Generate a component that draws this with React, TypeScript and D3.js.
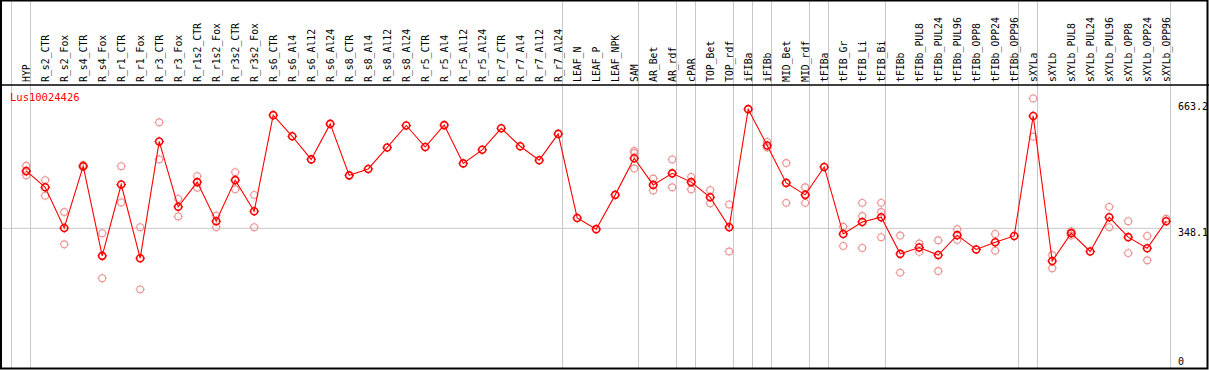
import React from "react";
import * as d3 from "d3";

const categories = [
  "HYP", "R_s2_CTR", "R_s2_Fox", "R_s4_CTR", "R_s4_Fox", "R_r1_CTR", "R_r1_Fox", "R_r3_CTR", "R_r3_Fox",
  "R_r1s2_CTR", "R_r1s2_Fox", "R_r3s2_CTR", "R_r3s2_Fox", "R_s6_CTR", "R_s6_Al4", "R_s6_Al12", "R_s6_Al24",
  "R_s8_CTR", "R_s8_Al4", "R_s8_Al12", "R_s8_Al24", "R_r5_CTR", "R_r5_Al4", "R_r5_Al12", "R_r5_Al24",
  "R_r7_CTR", "R_r7_Al4", "R_r7_Al12", "R_r7_Al24", "LEAF_N", "LEAF_P", "LEAF_NPK", "SAM", "AR_Bet", "AR_rdf",
  "cPAR", "TOP_Bet", "TOP_rdf", "iFIBa", "iFIBb", "MID_Bet", "MID_rdf", "tFIBa", "tFIB_Gr", "tFIB_Li", "tFIB_Bi",
  "tFIBb", "tFIBb_PUL8", "tFIBb_PUL24", "tFIBb_PUL96", "tFIBb_OPP8", "tFIBb_OPP24", "tFIBb_OPP96",
  "sXYLa", "sXYLb", "sXYLb_PUL8", "sXYLb_PUL24", "sXYLb_PUL96", "sXYLb_OPP8", "sXYLb_OPP24", "sXYLb_OPP96",
];

const meanValues = [
  492, 451, 349, 504, 279, 458, 273, 566, 402,
  464, 366, 469, 391, 632, 579, 521, 610,
  481, 497, 551, 606, 552, 607, 511, 545,
  599, 554, 519, 585, 374, 346, 432, 524, 457, 486,
  464, 426, 351, 647, 556, 462, 432, 502, 334, 364, 376,
  284, 300, 281, 331, 295, 313, 329,
  630, 266, 336, 290, 376, 326, 298, 366,
];

const rep1: (number | null)[] = [
  505, 469, 389, 507, 336, 504, 351, 614, 422,
  479, 380, 489, 432, null, null, null, null,
  null, null, null, null, null, null, null, null,
  null, null, null, null, null, null, null, 542, 473, 521,
  477, 444, 408, null, 565, 512, 451, null, 352, 412, 412,
  330, 310, 318, 346, null, 334, null,
  674, 281, 341, null, 402, 366, 329, 372,
];

const rep2: (number | null)[] = [
  481, 430, 308, 502, 223, 413, 195, 521, 378,
  450, 351, 446, 351, null, null, null, null,
  null, null, null, null, null, null, null, null,
  null, null, null, null, null, null, null, 498, 443, 451,
  446, 411, 290, null, 551, 412, 412, null, 304, 379, 389,
  237, 289, 241, 319, null, 292, null,
  578, 248, 330, null, 351, 286, 268, null,
];

const rep3: (number | null)[] = [
  490, null, null, null, null, null, null, null, null,
  null, null, null, null, null, null, null, null,
  null, null, null, null, null, null, null, null,
  null, null, null, null, null, null, null, 537, null, null,
  null, null, null, null, null, null, null, null, null, 299, 326,
  null, null, null, null, null, null, null,
  null, null, null, null, null, null, null, null,
];

// separators drawn after these category names ("" = before the first)
const separatorsAfter = [
  "", "HYP", "R_r7_Al24", "SAM", "AR_rdf", "cPAR", "TOP_rdf", "iFIBa", "iFIBb",
  "MID_rdf", "tFIBa", "tFIB_Bi", "tFIBb_OPP96", "sXYLa", "sXYLb_OPP96",
];

const tickValues = [663.2, 348.1, 0];
const tickLabels = ["663.2", "348.1", "0"];
const geneName = "Lus10024426";

const W = 1209;
const H = 370;
const MONO = "'DejaVu Sans Mono', monospace";

function crossCircle(cx: number, cy: number, r: number) {
  const t = 1.3;
  return `M${cx},${cy - r - t}V${cy - r}M${cx},${cy + r}V${cy + r + t}M${cx - r - t},${cy}H${cx - r}M${cx + r},${cy}H${cx + r + t}`;
}

export default function App() {
  const x = d3.scalePoint<string>().domain(categories).range([26.2, 1166.2]);
  const step = x.step();
  const y = d3.scaleLinear().domain([0, 663.2]).range([367.1, 102.7]);

  const line = d3
    .line<number>()
    .x((_, i) => x(categories[i]) as number)
    .y((d) => y(d));

  const reps: { cx: number; cy: number; key: string }[] = [];
  [rep1, rep2, rep3].forEach((arr, k) =>
    arr.forEach((v, i) => {
      if (v !== null) reps.push({ cx: x(categories[i]) as number, cy: y(v), key: `${k}-${i}` });
    })
  );

  const sepX = separatorsAfter.map((c) =>
    c === "" ? (x(categories[0]) as number) - step + 4.3 : (x(c) as number) + 4.3
  );

  return (
    <svg
      width={W}
      height={H}
      style={{ position: "absolute", left: 0, top: 0, display: "block", background: "#fff" }}
    >
      <rect x={0} y={0} width={W} height={H} fill="#fff" />
      {sepX.map((sx, i) => (
        <line key={i} x1={sx} x2={sx} y1={0} y2={369} stroke="#c8c8c8" strokeWidth={1} />
      ))}
      <line x1={0} x2={sepX[sepX.length - 1]} y1={y(348.1)} y2={y(348.1)} stroke="#c8c8c8" strokeWidth={1} />
      <line x1={0} x2={W} y1={85} y2={85} stroke="#000" strokeWidth={1.5} />
      <rect x={1} y={0.5} width={1206.5} height={368} fill="none" stroke="#000" strokeWidth={2} />

      {categories.map((c) => (
        <text
          key={c}
          transform={`translate(${(x(c) as number) + 4},82) rotate(-90)`}
          fontFamily={MONO}
          fontSize={9.8}
          fill="#000"
        >
          {c}
        </text>
      ))}

      <text x={10} y={100.7} fontFamily={MONO} fontSize={10.5} fill="#ff0000">
        {geneName}
      </text>

      {tickValues.map((v, i) => (
        <text
          key={i}
          x={1178}
          y={Math.min(y(v) + 7.6, 365.3)}
          fontFamily={MONO}
          fontSize={10}
          fill="#000"
        >
          {tickLabels[i]}
        </text>
      ))}

      {reps.map((r) => (
        <g key={r.key}>
          <circle cx={r.cx} cy={r.cy} r={3.4} fill="none" stroke="#ee9494" strokeWidth={1.1} />
          <path d={crossCircle(r.cx, r.cy, 3.4)} stroke="#ee9494" strokeWidth={1} />
        </g>
      ))}

      <path d={line(meanValues) || ""} fill="none" stroke="#ff0000" strokeWidth={1.1} />

      {meanValues.map((v, i) => {
        const cx = x(categories[i]) as number;
        const cy = y(v);
        return (
          <g key={i}>
            <circle cx={cx} cy={cy} r={3.5} fill="none" stroke="#ff0000" strokeWidth={1.6} />
            <path d={crossCircle(cx, cy, 3.5)} stroke="#ff0000" strokeWidth={1} />
          </g>
        );
      })}
    </svg>
  );
}
